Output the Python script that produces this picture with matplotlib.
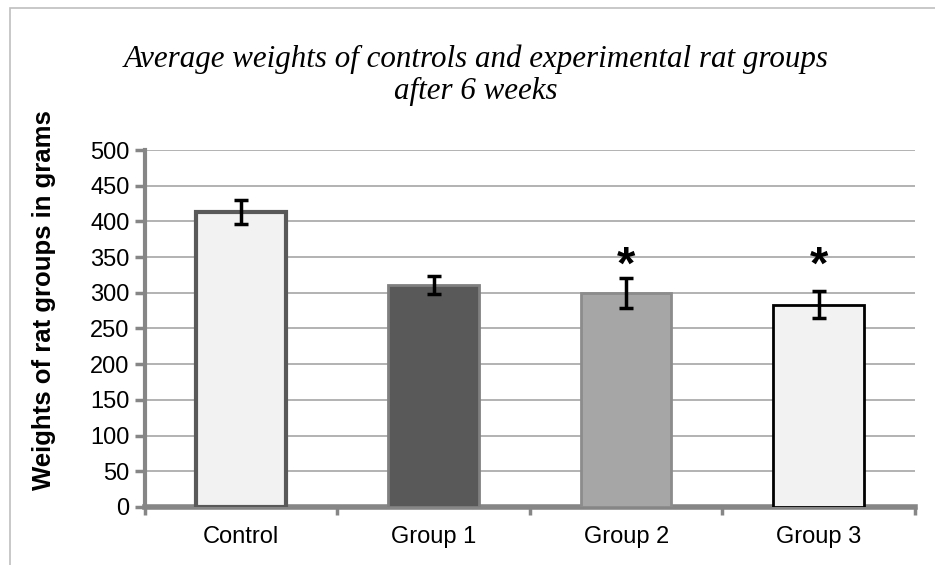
import numpy as np
import matplotlib.pyplot as plt
from matplotlib.patches import Rectangle

groups = ['Control', 'Group 1', 'Group 2', 'Group 3']
weights = [413, 311, 300, 283]
errors = [17, 12, 21, 19]
significant = [False, False, True, True]
star_level = 336

fills = ['#f2f2f2', '#595959', '#a6a6a6', '#f2f2f2']
edges = ['#595959', '#808080', '#8c8c8c', '#000000']
edge_widths = [3.0, 2.0, 2.0, 2.0]

plt.rcParams['font.family'] = ['Liberation Sans', 'DejaVu Sans']

fig = plt.figure(figsize=(9.35, 5.65), dpi=100)
ax = fig.add_axes([0.155, 0.1027, 0.8236, 0.6318])

# light border of the chart area
fig.patches.append(Rectangle((10/935, -0.1), 1.2, 1 - 8/565 + 0.1,
                             transform=fig.transFigure, fill=False,
                             edgecolor='#bfbfbf', linewidth=1.2))

x = np.arange(len(groups))
ax.bar(x, weights, width=0.47, color=fills, edgecolor=edges,
       linewidth=edge_widths, zorder=3)
ax.errorbar(x, weights, yerr=errors, fmt='none', ecolor='black',
            elinewidth=2.5, capsize=5, capthick=2.5, zorder=4)

for xi, s in zip(x, significant):
    if s:
        ax.text(xi, star_level, '*', ha='center', va='center',
                fontsize=34, fontweight='bold')

ax.set_xlim(-0.5, 3.5)
ax.set_ylim(0, 500)
ax.set_yticks(np.arange(0, 501, 50))
ax.set_xticks(x)
ax.set_xticklabels(groups, fontsize=17)
ax.set_xticks(np.arange(-0.5, 3.6, 1), minor=True)
ax.tick_params(axis='x', which='major', length=0, pad=14)
ax.tick_params(axis='x', which='minor', length=6, width=2.5, color='#868686',
               direction='out')
ax.tick_params(axis='y', labelsize=17, length=7, width=2.5, color='#868686',
               pad=4)

ax.grid(axis='y', color='#a6a6a6', linewidth=1.2, zorder=0)
for side in ['top', 'right']:
    ax.spines[side].set_visible(False)
ax.spines['left'].set_color('#868686')
ax.spines['left'].set_linewidth(3)
ax.spines['bottom'].set_color('#868686')
ax.spines['bottom'].set_linewidth(4)

# y label placed in figure coords
fig.text(44/935, 1 - 300/565, 'Weights of rat groups in grams', rotation=90,
         ha='center', va='center', fontsize=18.5, fontweight='bold')

fig.text(476/935, 1 - 75/565, 'Average weights of controls and experimental rat groups\nafter 6 weeks',
         ha='center', va='center', fontsize=22.3, style='italic',
         family=['Liberation Serif', 'DejaVu Serif'], linespacing=1.15)

plt.savefig('out.png', dpi=100)
